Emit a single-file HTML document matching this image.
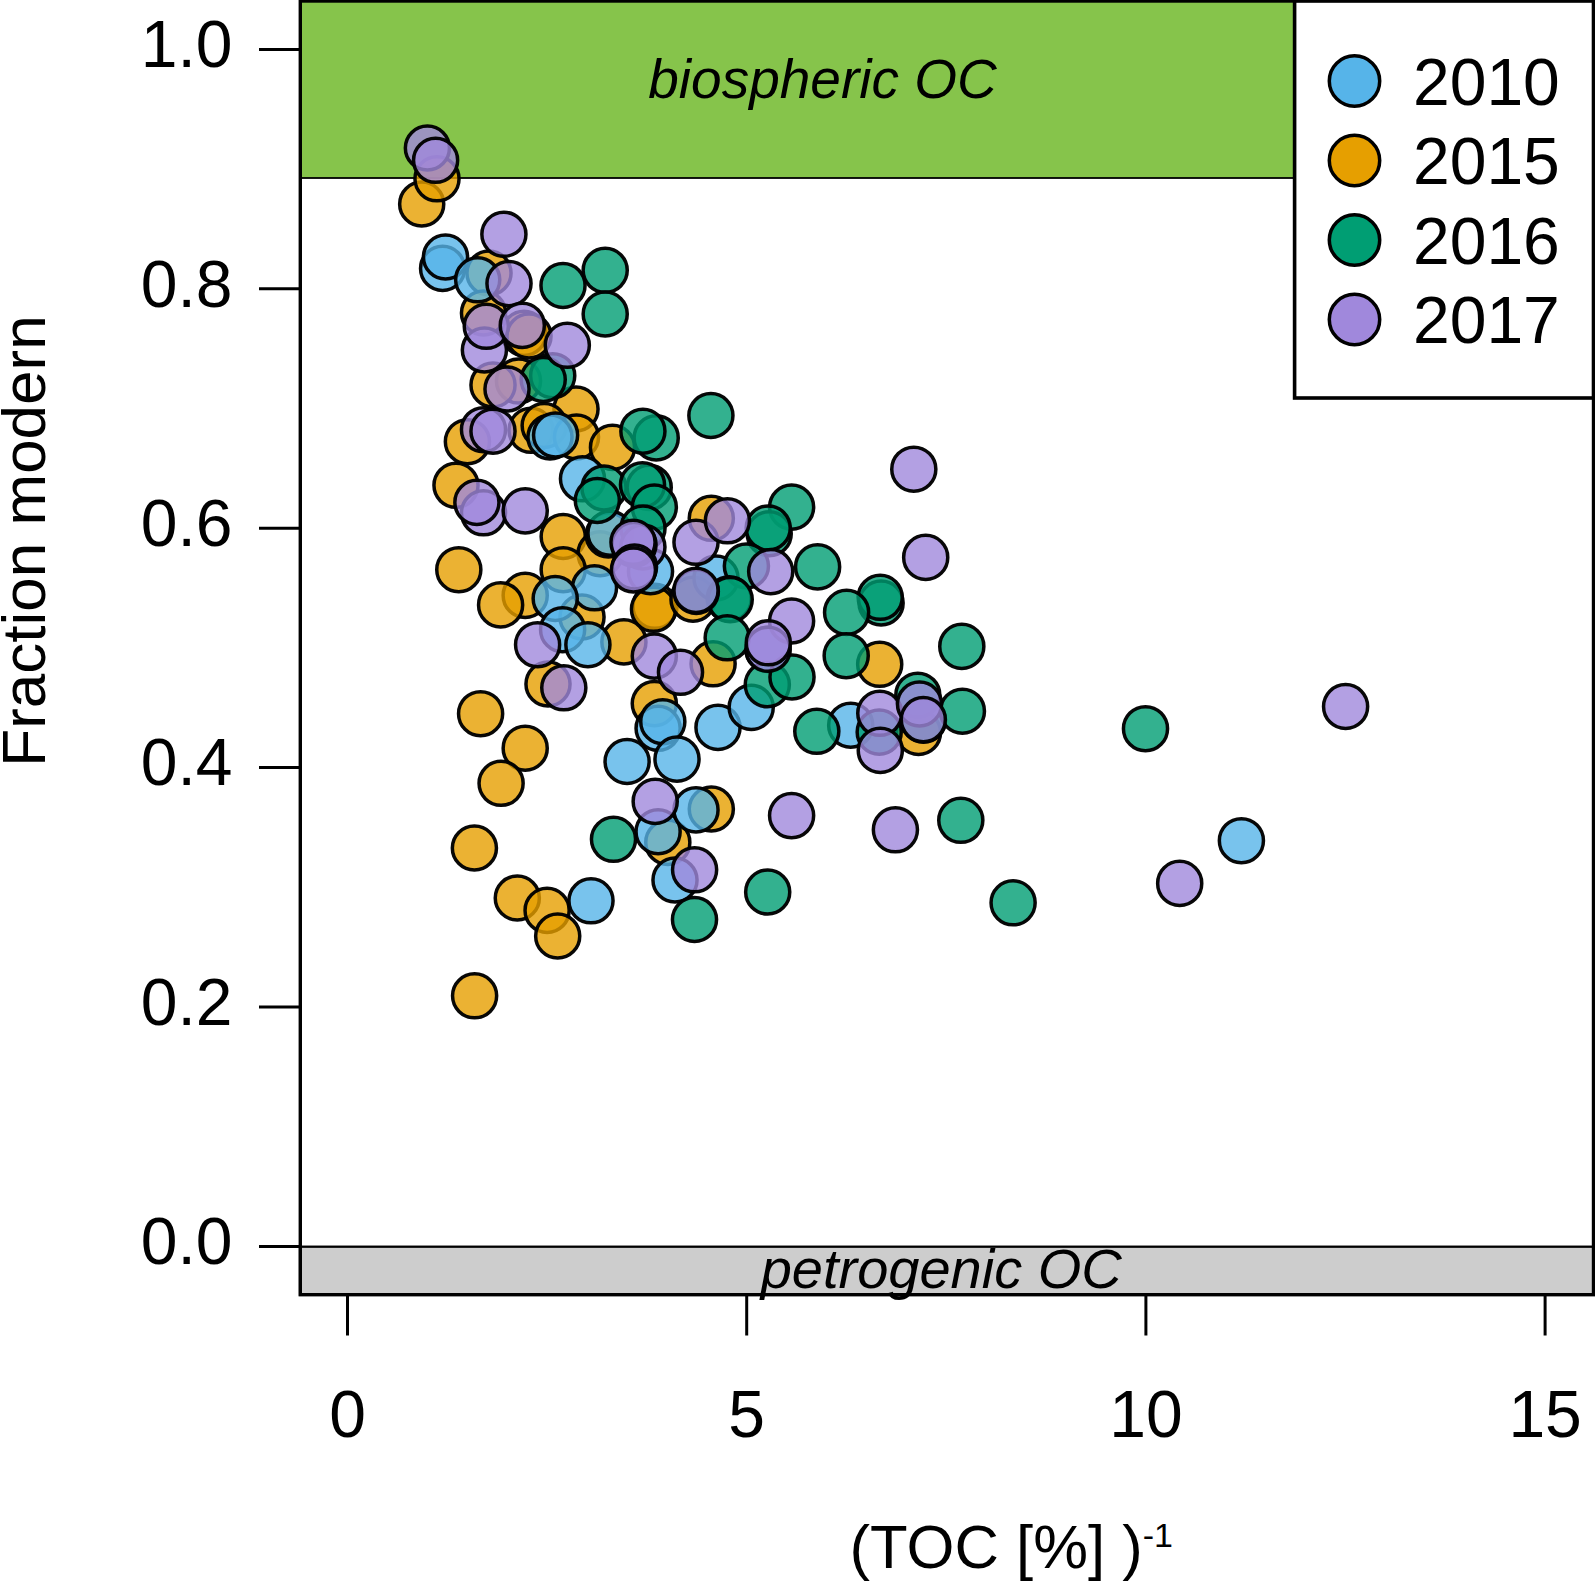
<!DOCTYPE html>
<html><head><meta charset="utf-8"><title>Fraction modern vs TOC</title>
<style>
html,body{margin:0;padding:0;background:#fff;}
svg{display:block;font-family:"Liberation Sans",sans-serif;}
</style></head><body>
<svg width="1595" height="1581" viewBox="0 0 1595 1581">
<rect x="0" y="0" width="1595" height="1581" fill="#fff"/>
<!-- bands -->
<rect x="300" y="0" width="1293.5" height="178" fill="#86C44B" stroke="#000" stroke-width="1.8"/>
<rect x="300" y="1246.7" width="1293.5" height="48" fill="#CDCDCD" stroke="#000" stroke-width="2.3"/>
<!-- points -->
<g stroke="#000" stroke-width="3.5" fill-opacity="0.8" stroke-opacity="0.97">
<circle cx="421.7" cy="204" r="22.05" fill="#E69F00"/>
<circle cx="437" cy="178.8" r="22.05" fill="#E69F00"/>
<circle cx="489" cy="273" r="22.05" fill="#E69F00"/>
<circle cx="483.5" cy="313" r="22.05" fill="#E69F00"/>
<circle cx="524" cy="333.4" r="22.05" fill="#E69F00"/>
<circle cx="529" cy="336" r="22.05" fill="#E69F00"/>
<circle cx="518.5" cy="381" r="22.05" fill="#E69F00"/>
<circle cx="493" cy="385" r="22.05" fill="#E69F00"/>
<circle cx="576" cy="409" r="22.05" fill="#E69F00"/>
<circle cx="531" cy="430.3" r="22.05" fill="#E69F00"/>
<circle cx="544.2" cy="425.5" r="22.05" fill="#E69F00"/>
<circle cx="467.4" cy="441.7" r="22.05" fill="#E69F00"/>
<circle cx="576.5" cy="437" r="22.05" fill="#E69F00"/>
<circle cx="612.5" cy="447.4" r="22.05" fill="#E69F00"/>
<circle cx="456" cy="485.3" r="22.05" fill="#E69F00"/>
<circle cx="563.2" cy="536.5" r="22.05" fill="#E69F00"/>
<circle cx="600.1" cy="553.7" r="22.05" fill="#E69F00"/>
<circle cx="608.3" cy="535" r="22.05" fill="#E69F00"/>
<circle cx="563.2" cy="569.7" r="22.05" fill="#E69F00"/>
<circle cx="458.8" cy="569.7" r="22.05" fill="#E69F00"/>
<circle cx="525.2" cy="595.4" r="22.05" fill="#E69F00"/>
<circle cx="500.6" cy="604.9" r="22.05" fill="#E69F00"/>
<circle cx="582" cy="617" r="22.05" fill="#E69F00"/>
<circle cx="655" cy="606.3" r="22.05" fill="#E69F00"/>
<circle cx="653.5" cy="609.3" r="22.05" fill="#E69F00"/>
<circle cx="623.9" cy="641.9" r="22.05" fill="#E69F00"/>
<circle cx="693" cy="599.2" r="22.05" fill="#E69F00"/>
<circle cx="711.3" cy="518.3" r="22.05" fill="#E69F00"/>
<circle cx="713.1" cy="663.8" r="22.05" fill="#E69F00"/>
<circle cx="879.7" cy="664.3" r="22.05" fill="#E69F00"/>
<circle cx="480.6" cy="713.7" r="22.05" fill="#E69F00"/>
<circle cx="525.2" cy="748.2" r="22.05" fill="#E69F00"/>
<circle cx="501.1" cy="783.3" r="22.05" fill="#E69F00"/>
<circle cx="474.4" cy="848" r="22.05" fill="#E69F00"/>
<circle cx="517.3" cy="898" r="22.05" fill="#E69F00"/>
<circle cx="547.1" cy="910.4" r="22.05" fill="#E69F00"/>
<circle cx="557.7" cy="936" r="22.05" fill="#E69F00"/>
<circle cx="548" cy="684" r="22.05" fill="#E69F00"/>
<circle cx="654.3" cy="703.6" r="22.05" fill="#E69F00"/>
<circle cx="667.8" cy="842.4" r="22.05" fill="#E69F00"/>
<circle cx="711.3" cy="809" r="22.05" fill="#E69F00"/>
<circle cx="918.5" cy="732.5" r="22.05" fill="#E69F00"/>
<circle cx="474.6" cy="995.8" r="22.05" fill="#E69F00"/>
<circle cx="442.6" cy="268.4" r="22.05" fill="#56B4E9"/>
<circle cx="445.5" cy="257" r="22.05" fill="#56B4E9"/>
<circle cx="477.7" cy="279.8" r="22.05" fill="#56B4E9"/>
<circle cx="550" cy="437" r="22.05" fill="#56B4E9"/>
<circle cx="555.6" cy="435" r="22.05" fill="#56B4E9"/>
<circle cx="582.5" cy="478.8" r="22.05" fill="#56B4E9"/>
<circle cx="610" cy="533.2" r="22.05" fill="#56B4E9"/>
<circle cx="650.5" cy="571.6" r="22.05" fill="#56B4E9"/>
<circle cx="594.5" cy="587.8" r="22.05" fill="#56B4E9"/>
<circle cx="555.2" cy="598.5" r="22.05" fill="#56B4E9"/>
<circle cx="562.6" cy="629.7" r="22.05" fill="#56B4E9"/>
<circle cx="587.9" cy="644.7" r="22.05" fill="#56B4E9"/>
<circle cx="716" cy="578" r="22.05" fill="#56B4E9"/>
<circle cx="768" cy="649.4" r="22.05" fill="#56B4E9"/>
<circle cx="658.1" cy="728.3" r="22.05" fill="#56B4E9"/>
<circle cx="662.8" cy="721.7" r="22.05" fill="#56B4E9"/>
<circle cx="627.1" cy="761.5" r="22.05" fill="#56B4E9"/>
<circle cx="677" cy="759.1" r="22.05" fill="#56B4E9"/>
<circle cx="658.1" cy="831.7" r="22.05" fill="#56B4E9"/>
<circle cx="591" cy="900.8" r="22.05" fill="#56B4E9"/>
<circle cx="696" cy="809.9" r="22.05" fill="#56B4E9"/>
<circle cx="675" cy="880" r="22.05" fill="#56B4E9"/>
<circle cx="718" cy="727.4" r="22.05" fill="#56B4E9"/>
<circle cx="751.2" cy="707.4" r="22.05" fill="#56B4E9"/>
<circle cx="850.7" cy="725.2" r="22.05" fill="#56B4E9"/>
<circle cx="1241.4" cy="840.7" r="22.05" fill="#56B4E9"/>
<circle cx="563" cy="285.5" r="22.05" fill="#009E73"/>
<circle cx="605.2" cy="270.3" r="22.05" fill="#009E73"/>
<circle cx="605.2" cy="314" r="22.05" fill="#009E73"/>
<circle cx="552.7" cy="375.7" r="22.05" fill="#009E73"/>
<circle cx="543.2" cy="379.5" r="22.05" fill="#009E73"/>
<circle cx="656.2" cy="437.9" r="22.05" fill="#009E73"/>
<circle cx="642.9" cy="431.2" r="22.05" fill="#009E73"/>
<circle cx="604" cy="488" r="22.05" fill="#009E73"/>
<circle cx="597.3" cy="500.5" r="22.05" fill="#009E73"/>
<circle cx="649.2" cy="487.4" r="22.05" fill="#009E73"/>
<circle cx="642.5" cy="484.8" r="22.05" fill="#009E73"/>
<circle cx="654.3" cy="507.1" r="22.05" fill="#009E73"/>
<circle cx="643" cy="528" r="22.05" fill="#009E73"/>
<circle cx="710.9" cy="415.5" r="22.05" fill="#009E73"/>
<circle cx="791.6" cy="507.1" r="22.05" fill="#009E73"/>
<circle cx="769.2" cy="533.7" r="22.05" fill="#009E73"/>
<circle cx="768.2" cy="528" r="22.05" fill="#009E73"/>
<circle cx="746.4" cy="566" r="22.05" fill="#009E73"/>
<circle cx="817.6" cy="566.9" r="22.05" fill="#009E73"/>
<circle cx="729.2" cy="598.8" r="22.05" fill="#009E73"/>
<circle cx="730.2" cy="599.6" r="22.05" fill="#009E73"/>
<circle cx="881.1" cy="603" r="22.05" fill="#009E73"/>
<circle cx="880.2" cy="597.3" r="22.05" fill="#009E73"/>
<circle cx="846.6" cy="612.4" r="22.05" fill="#009E73"/>
<circle cx="727.2" cy="637.8" r="22.05" fill="#009E73"/>
<circle cx="846.2" cy="655.7" r="22.05" fill="#009E73"/>
<circle cx="961.8" cy="646.4" r="22.05" fill="#009E73"/>
<circle cx="613.5" cy="839.3" r="22.05" fill="#009E73"/>
<circle cx="694.5" cy="919.5" r="22.05" fill="#009E73"/>
<circle cx="767.3" cy="684.7" r="22.05" fill="#009E73"/>
<circle cx="792" cy="677" r="22.05" fill="#009E73"/>
<circle cx="816.8" cy="731.3" r="22.05" fill="#009E73"/>
<circle cx="917.8" cy="695.2" r="22.05" fill="#009E73"/>
<circle cx="923.5" cy="720.2" r="22.05" fill="#009E73"/>
<circle cx="696.3" cy="591.5" r="22.05" fill="#009E73"/>
<circle cx="962.4" cy="711.2" r="22.05" fill="#009E73"/>
<circle cx="879.2" cy="732.1" r="22.05" fill="#009E73"/>
<circle cx="960.8" cy="820.3" r="22.05" fill="#009E73"/>
<circle cx="767.7" cy="892" r="22.05" fill="#009E73"/>
<circle cx="1013.1" cy="902.8" r="22.05" fill="#009E73"/>
<circle cx="1145.5" cy="728.7" r="22.05" fill="#009E73"/>
<circle cx="427.4" cy="148" r="22.05" fill="#A088DC"/>
<circle cx="435.6" cy="160.3" r="22.05" fill="#A088DC"/>
<circle cx="503.9" cy="234.3" r="22.05" fill="#A088DC"/>
<circle cx="509" cy="283.6" r="22.05" fill="#A088DC"/>
<circle cx="484.4" cy="350" r="22.05" fill="#A088DC"/>
<circle cx="486.3" cy="326.3" r="22.05" fill="#A088DC"/>
<circle cx="522.3" cy="325.4" r="22.05" fill="#A088DC"/>
<circle cx="567.3" cy="345.3" r="22.05" fill="#A088DC"/>
<circle cx="507" cy="389" r="22.05" fill="#A088DC"/>
<circle cx="483.5" cy="429.7" r="22.05" fill="#A088DC"/>
<circle cx="493" cy="431.2" r="22.05" fill="#A088DC"/>
<circle cx="483.5" cy="512.8" r="22.05" fill="#A088DC"/>
<circle cx="476.9" cy="502.4" r="22.05" fill="#A088DC"/>
<circle cx="525.2" cy="510.9" r="22.05" fill="#A088DC"/>
<circle cx="642.9" cy="547" r="22.05" fill="#A088DC"/>
<circle cx="634" cy="544.5" r="22.05" fill="#A088DC"/>
<circle cx="633" cy="542.3" r="22.05" fill="#A088DC"/>
<circle cx="634.5" cy="567" r="22.05" fill="#A088DC"/>
<circle cx="633.4" cy="570" r="22.05" fill="#A088DC"/>
<circle cx="696" cy="542.3" r="22.05" fill="#A088DC"/>
<circle cx="696" cy="590.4" r="22.05" fill="#A088DC"/>
<circle cx="537.6" cy="644.7" r="22.05" fill="#A088DC"/>
<circle cx="654.3" cy="656.1" r="22.05" fill="#A088DC"/>
<circle cx="680.5" cy="672.3" r="22.05" fill="#A088DC"/>
<circle cx="913.8" cy="469.2" r="22.05" fill="#A088DC"/>
<circle cx="925.7" cy="557.4" r="22.05" fill="#A088DC"/>
<circle cx="727.4" cy="520.8" r="22.05" fill="#A088DC"/>
<circle cx="770.7" cy="571.6" r="22.05" fill="#A088DC"/>
<circle cx="791.6" cy="621" r="22.05" fill="#A088DC"/>
<circle cx="768" cy="649.2" r="22.05" fill="#A088DC"/>
<circle cx="768.3" cy="642.8" r="22.05" fill="#A088DC"/>
<circle cx="563.8" cy="687.8" r="22.05" fill="#A088DC"/>
<circle cx="655.2" cy="801.4" r="22.05" fill="#A088DC"/>
<circle cx="694.6" cy="869.8" r="22.05" fill="#A088DC"/>
<circle cx="879.8" cy="713.3" r="22.05" fill="#A088DC"/>
<circle cx="919.5" cy="704" r="22.05" fill="#A088DC"/>
<circle cx="923.3" cy="719.6" r="22.05" fill="#A088DC"/>
<circle cx="880.3" cy="750.4" r="22.05" fill="#A088DC"/>
<circle cx="791.6" cy="815.6" r="22.05" fill="#A088DC"/>
<circle cx="895.4" cy="829.8" r="22.05" fill="#A088DC"/>
<circle cx="1345.6" cy="706.5" r="22.05" fill="#A088DC"/>
<circle cx="1179.7" cy="883.4" r="22.05" fill="#A088DC"/>
</g>
<!-- box -->
<rect x="300.3" y="1" width="1293.2" height="1293.7" fill="none" stroke="#000" stroke-width="3.4"/>
<g stroke="#000" stroke-width="3"><line x1="259" x2="300" y1="49.4" y2="49.4"/><line x1="259" x2="300" y1="288.8" y2="288.8"/><line x1="259" x2="300" y1="528.2" y2="528.2"/><line x1="259" x2="300" y1="767.6" y2="767.6"/><line x1="259" x2="300" y1="1007.0" y2="1007.0"/><line x1="259" x2="300" y1="1246.4" y2="1246.4"/><line x1="347.5" x2="347.5" y1="1295" y2="1335.5"/><line x1="746.7" x2="746.7" y1="1295" y2="1335.5"/><line x1="1145.9" x2="1145.9" y1="1295" y2="1335.5"/><line x1="1545.1" x2="1545.1" y1="1295" y2="1335.5"/></g>
<g font-size="66px" fill="#000"><text x="232.5" y="67.2" text-anchor="end">1.0</text><text x="232.5" y="306.6" text-anchor="end">0.8</text><text x="232.5" y="546.0" text-anchor="end">0.6</text><text x="232.5" y="785.4" text-anchor="end">0.4</text><text x="232.5" y="1024.8" text-anchor="end">0.2</text><text x="232.5" y="1264.2" text-anchor="end">0.0</text><text x="347.5" y="1437" text-anchor="middle">0</text><text x="746.7" y="1437" text-anchor="middle">5</text><text x="1145.9" y="1437" text-anchor="middle">10</text><text x="1545.1" y="1437" text-anchor="middle">15</text></g>
<text x="822.5" y="97.7" font-size="55px" font-style="italic" text-anchor="middle">biospheric OC</text>
<text x="941.2" y="1287.7" font-size="56px" font-style="italic" text-anchor="middle">petrogenic OC</text>
<text transform="translate(44.5,541) rotate(-90)" font-size="62px" text-anchor="middle">Fraction modern</text>
<text x="849.5" y="1568" font-size="61.6px">(TOC [%] )<tspan font-size="34px" dy="-21">-1</tspan></text>
<!-- legend -->
<rect x="1294.6" y="1" width="298.9" height="397" fill="#fff" stroke="#000" stroke-width="3.6"/>
<g font-size="66px" fill="#000"><circle cx="1354.5" cy="81.0" r="25.2" fill="#56B4E9" stroke="#000" stroke-width="3.5"/><text x="1413" y="104.5">2010</text><circle cx="1354.5" cy="160.5" r="25.2" fill="#E69F00" stroke="#000" stroke-width="3.5"/><text x="1413" y="184.0">2015</text><circle cx="1354.5" cy="240.0" r="25.2" fill="#009E73" stroke="#000" stroke-width="3.5"/><text x="1413" y="263.5">2016</text><circle cx="1354.5" cy="319.5" r="25.2" fill="#A088DC" stroke="#000" stroke-width="3.5"/><text x="1413" y="343.0">2017</text></g>
</svg>
</body></html>
